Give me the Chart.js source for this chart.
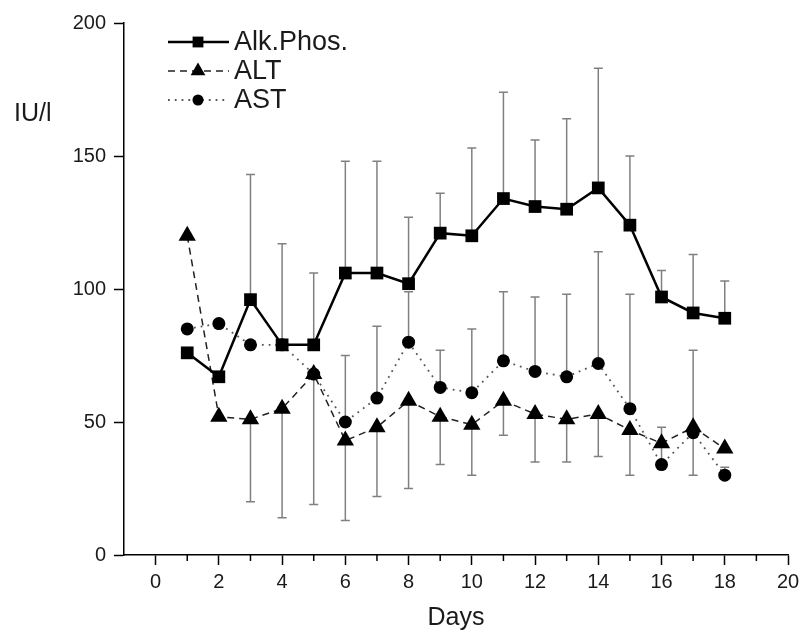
<!DOCTYPE html>
<html>
<head>
    <meta charset="UTF-8">
    <title>Liver enzymes</title>
    <style>
        html, body { margin: 0; padding: 0; background: #fff; }
        .wrap { width: 801px; height: 634px; }
    </style>
</head>
<body>
    <div class="wrap"><canvas id="myChart" width="801" height="634"></canvas></div>
    <script src="https://cdn.jsdelivr.net/npm/chart.js"></script>
    <script>
        // values
        const days = [1, 2, 3, 4, 5, 6, 7, 8, 9, 10, 11, 12, 13, 14, 15, 16, 17, 18];
        const alkPhos = [76, 67, 96, 79, 79, 106, 106, 102, 121, 120, 134, 131, 130, 138, 124, 97, 91, 89];
        const alkPhosHigh = [null, null, 143, 117, 106, 148, 148, 127, 136, 153, 174, 156, 164, 183, 150, 107, 113, 103];
        const alt = [120, 52, 51, 55, 68, 43, 48, 58, 52, 49, 58, 53, 51, 53, 47, 42, 48, 40];
        const altLow = [null, null, 20, 14, 19, 13, 22, 25, 34, 30, 45, 35, 35, 37, 30, null, 30, null];
        const ast = [85, 87, 79, 79, 68, 50, 59, 80, 63, 61, 73, 69, 67, 72, 55, 34, 46, 30];
        const astHigh = [null, null, null, null, null, 75, 86, 99, 77, 85, 99, 97, 98, 114, 98, 48, 77, 33];
        const xTicks = [0, 2, 4, 6, 8, 10, 12, 14, 16, 18, 20];
        const xMinorTicks = [1, 3, 5, 7, 9, 11, 13, 15, 17, 19];
        const yTicks = [0, 50, 100, 150, 200];

        const FONT = '"Liberation Sans", Arial, sans-serif';

        const toPoints = vals => vals.map((v, i) => ({ x: days[i], y: v }));

        // whisker bars drawn from the data through the chart scales
        const errorBars = {
            id: 'errorBars',
            beforeDatasetsDraw(chart) {
                const ctx = chart.ctx;
                const xs = chart.scales.x, ys = chart.scales.y;
                const ends = [alkPhosHigh, altLow, astHigh];
                ctx.save();
                ctx.strokeStyle = '#808080';
                ctx.lineWidth = 1.5;
                chart.data.datasets.forEach((ds, k) => {
                    ds.data.forEach((p, i) => {
                        const e = ends[k][i];
                        if (e == null) return;
                        const px = xs.getPixelForValue(p.x);
                        const y0 = ys.getPixelForValue(p.y);
                        const y1 = ys.getPixelForValue(e);
                        ctx.beginPath();
                        ctx.moveTo(px, y0);
                        ctx.lineTo(px, y1);
                        ctx.moveTo(px - 4.5, y1);
                        ctx.lineTo(px + 4.5, y1);
                        ctx.stroke();
                    });
                });
                ctx.restore();
            }
        };

        // minor x ticks, legend, axis titles
        const extras = {
            id: 'extras',
            afterDraw(chart) {
                const ctx = chart.ctx;
                const area = chart.chartArea;
                const xs = chart.scales.x;
                ctx.save();
                ctx.strokeStyle = '#000';
                ctx.lineWidth = 1.5;
                xMinorTicks.forEach(v => {
                    const px = xs.getPixelForValue(v);
                    ctx.beginPath();
                    ctx.moveTo(px, area.bottom);
                    ctx.lineTo(px, area.bottom + 6);
                    ctx.stroke();
                });

                ctx.fillStyle = '#1a1a1a';
                ctx.font = '25px ' + FONT;
                ctx.textBaseline = 'alphabetic';
                ctx.textAlign = 'left';
                ctx.fillText('IU/l', 14, 121);
                ctx.textAlign = 'center';
                ctx.fillText('Days', (area.left + area.right) / 2, 625);

                const rows = [42, 71, 100];
                chart.data.datasets.forEach((ds, k) => {
                    const y = rows[k];
                    ctx.save();
                    ctx.strokeStyle = ds.borderColor;
                    ctx.lineWidth = ds.borderWidth;
                    ctx.setLineDash(ds.borderDash || []);
                    ctx.beginPath();
                    ctx.moveTo(168, y);
                    ctx.lineTo(229, y);
                    ctx.stroke();
                    ctx.restore();
                    ctx.fillStyle = '#000';
                    Chart.helpers.drawPoint(ctx, {
                        pointStyle: ds.pointStyle,
                        radius: ds.pointRadius * 0.85,
                        borderWidth: 0
                    }, 198, y);
                    ctx.fillStyle = '#1a1a1a';
                    ctx.textAlign = 'left';
                    ctx.textBaseline = 'middle';
                    ctx.font = '27px ' + FONT;
                    ctx.fillText(ds.label, 234, y + 1);
                });
                ctx.restore();
            }
        };

        const ctx = document.getElementById('myChart').getContext('2d');
        const myChart = new Chart(ctx, {
            type: 'line',
            data: {
                datasets: [{
                    label: 'Alk.Phos.',
                    data: toPoints(alkPhos),
                    borderColor: '#000',
                    backgroundColor: '#000',
                    borderWidth: 2.5,
                    pointStyle: 'rect',
                    pointRadius: 9,
                    pointBorderWidth: 0
                },
                {
                    label: 'ALT',
                    data: toPoints(alt),
                    borderColor: '#222',
                    backgroundColor: '#000',
                    borderWidth: 1.5,
                    borderDash: [7, 5],
                    pointStyle: 'triangle',
                    pointRadius: 10,
                    pointBorderWidth: 0
                },
                {
                    label: 'AST',
                    data: toPoints(ast),
                    borderColor: '#555',
                    backgroundColor: '#000',
                    borderWidth: 1.8,
                    borderDash: [1.8, 5],
                    pointStyle: 'circle',
                    pointRadius: 6.5,
                    pointBorderWidth: 0
                }]
            },
            options: {
                responsive: false,
                animation: false,
                layout: { padding: { top: 23, right: 0, left: 0, bottom: 0 } },
                plugins: {
                    legend: { display: false },
                    tooltip: { enabled: false }
                },
                scales: {
                    x: {
                        type: 'linear',
                        min: -1,
                        max: 20,
                        afterFit(scale) {
                            scale.height = 79;
                            scale.paddingRight = 13;
                            scale.paddingLeft = 0;
                        },
                        afterBuildTicks(scale) {
                            scale.ticks = xTicks.map(v => ({ value: v }));
                        },
                        ticks: {
                            autoSkip: false,
                            maxRotation: 0,
                            padding: 5,
                            color: '#1a1a1a',
                            font: { family: FONT, size: 20 }
                        },
                        grid: {
                            drawOnChartArea: false,
                            drawTicks: true,
                            tickLength: 10,
                            tickColor: '#000',
                            tickWidth: 1.5
                        },
                        border: { color: '#000', width: 1.5 }
                    },
                    y: {
                        min: 0,
                        max: 200,
                        afterFit(scale) { scale.width = 124; },
                        afterBuildTicks(scale) {
                            scale.ticks = yTicks.map(v => ({ value: v }));
                        },
                        ticks: {
                            padding: 8,
                            color: '#1a1a1a',
                            font: { family: FONT, size: 20 }
                        },
                        grid: {
                            drawOnChartArea: false,
                            drawTicks: true,
                            tickLength: 10,
                            tickColor: '#000',
                            tickWidth: 1.5
                        },
                        border: { color: '#000', width: 1.5 }
                    }
                }
            },
            plugins: [errorBars, extras]
        });
    </script>
</body>
</html>
